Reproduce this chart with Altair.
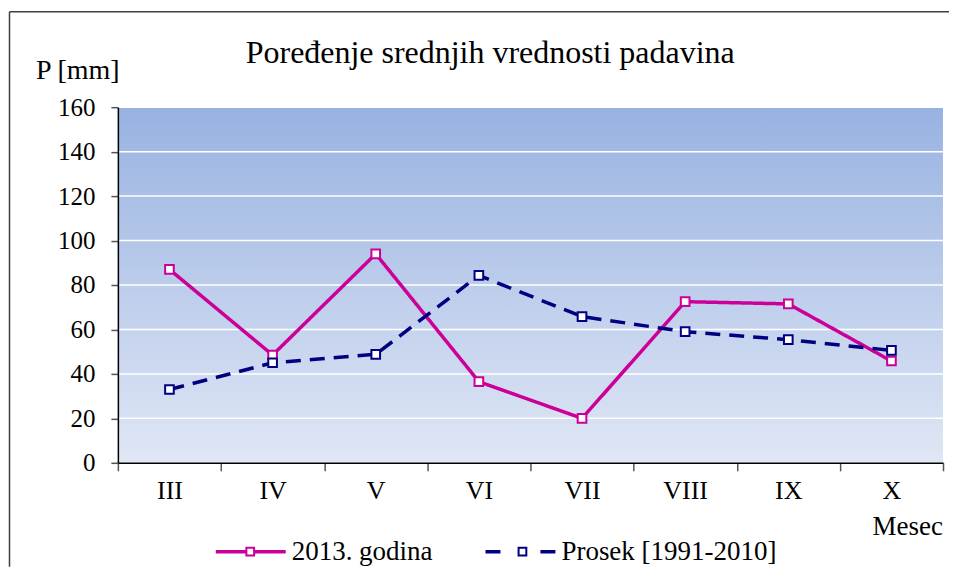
import json
import altair as alt
import pandas as pd

# ---- data ----
months = ["III", "IV", "V", "VI", "VII", "VIII", "IX", "X"]
god2013 = [87, 48.5, 94, 36.5, 20, 72.5, 71.5, 45.8]
prosek = [33, 45, 48.8, 84.3, 65.8, 59, 55.4, 50.6]
series = ["2013. godina", "Prosek [1991-2010]"]
colors = ["#cc0099", "#000080"]
y_ticks = [0, 20, 40, 60, 80, 100, 120, 140, 160]
title_text = "Poređenje srednjih vrednosti padavina"
y_title = "P [mm]"
x_title = "Mesec"

W, H = 826, 356
FONT = "Liberation Serif"

rows = []
for i, m in enumerate(months):
    rows.append({"mesec": m, "pos": i + 0.5, "serija": series[0], "P": god2013[i]})
    rows.append({"mesec": m, "pos": i + 0.5, "serija": series[1], "P": prosek[i]})
df = pd.DataFrame(rows)

xscale = alt.Scale(domain=[0, len(months)], nice=False, zero=False)
yscale = alt.Scale(domain=[0, 160], nice=False)

half_vals = [k * 0.5 for k in range(0, 2 * len(months) + 1)]
label_expr = ("(datum.value % 1) == 0.5 ? " + json.dumps(months)
              + "[floor(datum.value)] : ''")

x_axis = alt.Axis(values=half_vals, labelExpr=label_expr, title=None, grid=False,
                  tickOpacity={"condition": {"test": "(datum.value % 1) != 0", "value": 0}, "value": 1},
                  tickSize=8, tickColor="#555555", tickWidth=1.5, domainColor="#000000", domainWidth=1.5,
                  labelFont=FONT, labelFontSize=26, labelColor="#000000", labelPadding=7,
                  labelFlush=False, labelOverlap=False, zindex=1)
y_axis = alt.Axis(values=y_ticks, title=None, grid=False, tickSize=7, tickColor="#555555",
                  tickWidth=1.5, domainColor="#000000", domainWidth=1.5,
                  labelFont=FONT, labelFontSize=25, labelColor="#000000", labelPadding=16, zindex=1)

X = alt.X("pos:Q", scale=xscale, axis=x_axis)
Y = alt.Y("P:Q", scale=yscale, axis=y_axis)

one = pd.DataFrame({"a": [0]})

bg = alt.Chart(one).mark_rect(
    color=alt.Gradient(gradient="linear", x1=0, x2=0, y1=0, y2=1,
                       stops=[alt.GradientStop(color="#98b2e1", offset=0),
                              alt.GradientStop(color="#e0e7f5", offset=1)])
).encode(x=alt.value(0), x2=alt.value(W), y=alt.value(0), y2=alt.value(H))

grid = alt.Chart(pd.DataFrame({"P": y_ticks[1:]})).mark_rule(
    color="white", strokeWidth=1.5
).encode(y=Y)

color_scale = alt.Scale(domain=series, range=colors)
dash_scale = alt.Scale(domain=series, range=[[1, 0], [15, 9]])

lines = alt.Chart(df).mark_line(strokeWidth=3.5).encode(
    x=X, y=Y,
    color=alt.Color("serija:N", scale=color_scale, legend=None),
    strokeDash=alt.StrokeDash("serija:N", scale=dash_scale, legend=None),
)
points = alt.Chart(df).mark_point(shape="square", filled=True, fill="white", size=75,
                                  strokeWidth=2, opacity=1).encode(
    x=X, y=Y,
    stroke=alt.Stroke("serija:N", scale=color_scale, legend=None),
)

# ---- texts ----
title = alt.Chart(one).mark_text(text=title_text, font=FONT, fontSize=32, align="left",
                                 baseline="alphabetic", color="#000000").encode(
    x=alt.value(128), y=alt.value(-44))
ytitle = alt.Chart(one).mark_text(text=y_title, font=FONT, fontSize=28, align="left",
                                  baseline="alphabetic", color="#000000").encode(
    x=alt.value(-82), y=alt.value(-28))
xtitle = alt.Chart(one).mark_text(text=x_title, font=FONT, fontSize=27, align="right",
                                  baseline="alphabetic", color="#000000").encode(
    x=alt.value(W), y=alt.value(428))

# ---- manual legend ----
LY = 445
legend_layers = []
leg_specs = [
    (series[0], colors[0], 98, 168, 132.5, 174, [1, 0]),
    (series[1], colors[1], 368, 438, 405, 444, [15, 40]),
]
for name, col, xa, xb, xs, xt, dash in leg_specs:
    legend_layers.append(alt.Chart(one).mark_rule(color=col, strokeWidth=3.5, strokeDash=dash).encode(
        x=alt.value(xa), x2=alt.value(xb), y=alt.value(LY)))
    legend_layers.append(alt.Chart(one).mark_point(shape="square", filled=True, fill="white",
                                                   stroke=col, strokeWidth=2, size=60, opacity=1).encode(
        x=alt.value(xs), y=alt.value(LY)))
    legend_layers.append(alt.Chart(one).mark_text(text=name, font=FONT, fontSize=27, align="left",
                                                  baseline="middle", color="#000000").encode(
        x=alt.value(xt), y=alt.value(LY)))

# ---- outer frame (top and left edges) ----
frame_top = alt.Chart(one).mark_rule(color="#404040", strokeWidth=1.5).encode(
    x=alt.value(-108.5), x2=alt.value(832), y=alt.value(-95.5))
frame_left = alt.Chart(one).mark_rule(color="#404040", strokeWidth=1.5).encode(
    x=alt.value(-108.5), y=alt.value(-95.5), y2=alt.value(460))

chart = alt.layer(
    bg, grid, lines, points, title, ytitle, xtitle, frame_top, frame_left, *legend_layers
).properties(
    width=W, height=H,
    padding={"left": 0, "top": 2, "right": 0, "bottom": 0},
    background="white",
).configure_view(stroke=None)

chart.save("out.html", embed_options={"renderer": "svg", "actions": False})
